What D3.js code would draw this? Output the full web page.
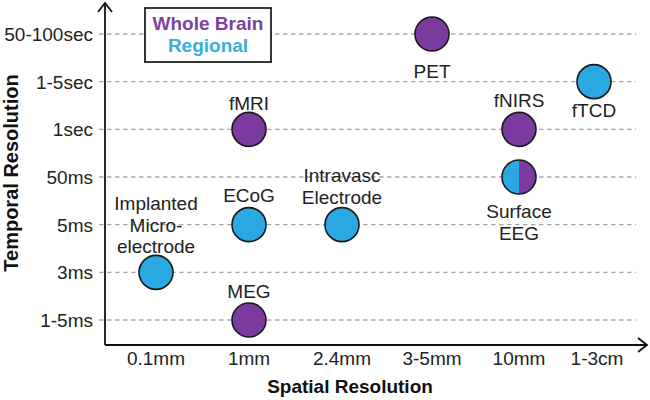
<!DOCTYPE html>
<html>
<head>
<meta charset="utf-8">
<script src="https://cdn.jsdelivr.net/npm/d3@7"></script>
<style>
  html, body { margin: 0; padding: 0; background: #fff; }
  text { font-family: "Liberation Sans", Arial, sans-serif; }
</style>
</head>
<body>
<svg id="chart" width="650" height="400"></svg>
<script>
// ---- data ----
const spatialLabels = ["0.1mm", "1mm", "2.4mm", "3-5mm", "10mm", "1-3cm"];
const temporalLabels = ["1-5ms", "3ms", "5ms", "50ms", "1sec", "1-5sec", "50-100sec"];

const techniques = ["PET", "fNIRS", "fTCD", "fMRI", "Surface EEG", "Intravasc Electrode", "ECoG", "Implanted Micro-electrode", "MEG"];
const techLines = [["PET"], ["fNIRS"], ["fTCD"], ["fMRI"], ["Surface", "EEG"], ["Intravasc", "Electrode"], ["ECoG"], ["Implanted", "Micro-", "electrode"], ["MEG"]];
const techSpatial = ["3-5mm", "10mm", "1-3cm", "1mm", "10mm", "2.4mm", "1mm", "0.1mm", "1mm"];
const techTemporal = ["50-100sec", "1sec", "1-5sec", "1sec", "50ms", "5ms", "5ms", "3ms", "1-5ms"];
const techCoverage = ["whole", "whole", "regional", "whole", "both", "regional", "regional", "regional", "whole"];

const legendItems = ["Whole Brain", "Regional"];

// ---- style ----
const PURPLE = "#7b3a9d";
const BLUE = "#2aa8e1";
const LEG_PURPLE = "#8040a0";
const LEG_BLUE = "#35b0dc";
const FS = 19;
// label baseline offset from circle centre (negative = above, first line for below / last line for above)
const labelOffset = {
  "PET": 44, "fNIRS": -22, "fTCD": 35, "fMRI": -19, "Surface EEG": 41,
  "Intravasc Electrode": -21, "ECoG": -23, "Implanted Micro-electrode": -19, "MEG": -22
};
const xPos = [156, 249, 342, 432, 519, 594];

const svg = d3.select("#chart");
const ox = 105, oy = 345;

const x = d3.scaleOrdinal()
  .domain(spatialLabels)
  .range(xPos);
const y = d3.scalePoint()
  .domain(temporalLabels)
  .range([320, 34]);

// gridlines
svg.append("g").selectAll("line")
  .data(temporalLabels)
  .join("line")
  .attr("x1", 99).attr("x2", 636)
  .attr("y1", d => y(d)).attr("y2", d => y(d))
  .attr("stroke", "#a8a8a8")
  .attr("stroke-width", 1.3)
  .attr("stroke-dasharray", "4.5,3.5");

// y tick labels
svg.append("g").selectAll("text")
  .data(temporalLabels)
  .join("text")
  .attr("x", 93)
  .attr("y", d => y(d))
  .attr("dy", "0.36em")
  .attr("text-anchor", "end")
  .attr("font-size", FS)
  .attr("fill", "#222")
  .text(d => d);

// x tick labels
svg.append("g").selectAll("text")
  .data(spatialLabels)
  .join("text")
  .attr("x", d => x(d) + (d === "1-3cm" ? 3 : 0))
  .attr("y", 365)
  .attr("text-anchor", "middle")
  .attr("font-size", FS)
  .attr("fill", "#222")
  .text(d => d);

// axes with arrows
const axisG = svg.append("g").attr("stroke", "#111").attr("stroke-width", 1.8).attr("fill", "none");
axisG.append("path").attr("d", `M${ox},${oy} L${ox},3`);
axisG.append("path").attr("d", `M${ox - 7},12 L${ox},3 L${ox + 7},12`);
axisG.append("path").attr("d", `M${ox},${oy} L647,${oy}`);
axisG.append("path").attr("d", `M638,${oy - 7} L647,${oy} L638,${oy + 7}`);

// axis titles
svg.append("text")
  .attr("transform", "translate(18,173) rotate(-90)")
  .attr("text-anchor", "middle")
  .attr("font-size", 20)
  .attr("font-weight", "bold")
  .attr("fill", "#111")
  .text("Temporal Resolution");
svg.append("text")
  .attr("x", 350).attr("y", 393)
  .attr("text-anchor", "middle")
  .attr("font-size", FS)
  .attr("font-weight", "bold")
  .attr("fill", "#111")
  .text("Spatial Resolution");

// legend
svg.append("rect")
  .attr("x", 145).attr("y", 8).attr("width", 126).attr("height", 54)
  .attr("fill", "#fff").attr("stroke", "#222").attr("stroke-width", 1.8);
svg.append("g").selectAll("text")
  .data(legendItems)
  .join("text")
  .attr("x", 208)
  .attr("y", (d, i) => 30 + i * 22)
  .attr("text-anchor", "middle")
  .attr("font-size", FS)
  .attr("font-weight", "bold")
  .attr("fill", (d, i) => i === 0 ? LEG_PURPLE : LEG_BLUE)
  .text(d => d);

// points
const R = 17;
const pts = techniques.map((t, i) => ({
  name: t, lines: techLines[i], sx: techSpatial[i], ty: techTemporal[i],
  cov: techCoverage[i]
}));

const ptG = svg.append("g").selectAll("g")
  .data(pts)
  .join("g")
  .attr("transform", d => `translate(${x(d.sx)},${y(d.ty)})`);

ptG.each(function(d) {
  const g = d3.select(this);
  if (d.cov === "both") {
    const arc = d3.arc().innerRadius(0).outerRadius(R);
    g.append("path").attr("d", arc({startAngle: Math.PI, endAngle: 2 * Math.PI})).attr("fill", BLUE);
    g.append("path").attr("d", arc({startAngle: 0, endAngle: Math.PI})).attr("fill", PURPLE);
    g.append("circle").attr("r", R).attr("fill", "none").attr("stroke", "#1a1a1a").attr("stroke-width", 1.6);
  } else {
    g.append("circle").attr("r", R)
      .attr("fill", d.cov === "whole" ? PURPLE : BLUE)
      .attr("stroke", "#1a1a1a").attr("stroke-width", 1.6);
  }
  const n = d.lines.length;
  const lh = 21.5;
  const off = labelOffset[d.name];
  g.selectAll("text.lbl")
    .data(d.lines)
    .join("text")
    .attr("class", "lbl")
    .attr("x", 0)
    .attr("y", (l, i) => off < 0 ? off - (n - 1 - i) * lh : off + i * lh)
    .attr("text-anchor", "middle")
    .attr("font-size", FS)
    .attr("fill", "#222")
    .text(l => l);
});
</script>
</body>
</html>
